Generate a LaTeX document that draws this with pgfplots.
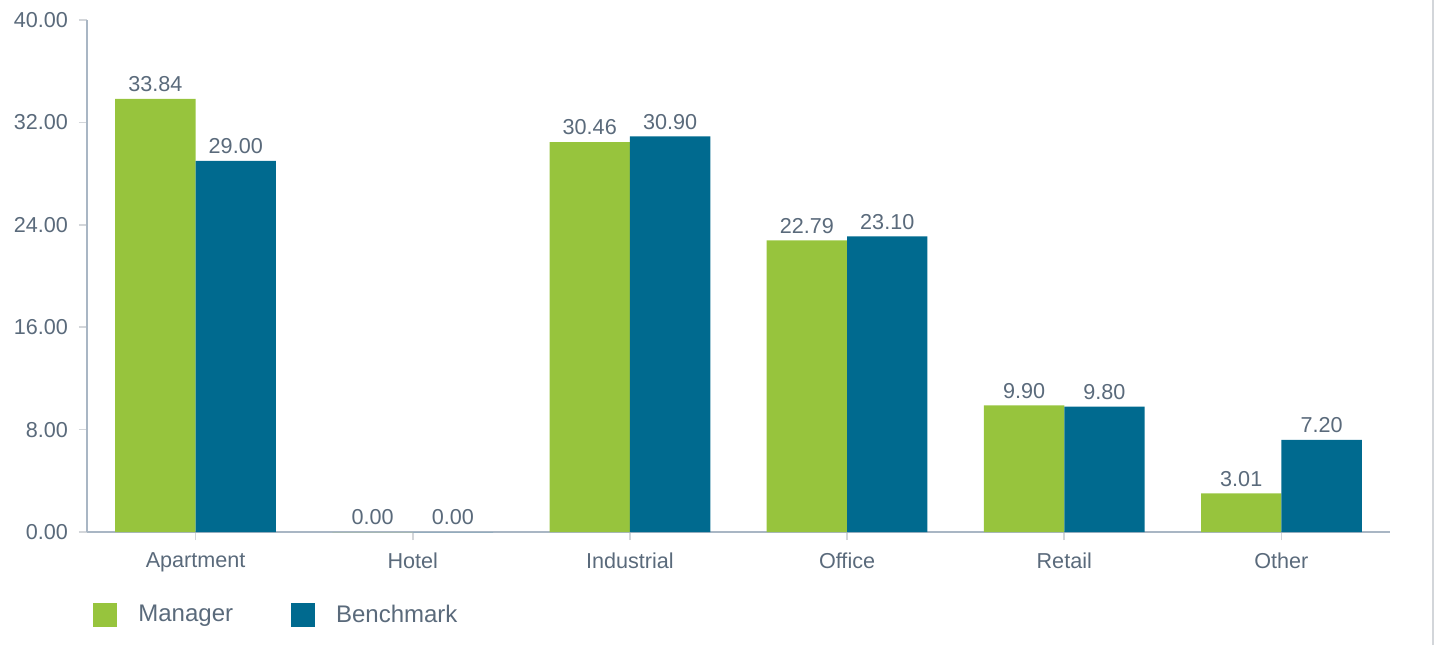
\documentclass[border=0pt]{standalone}
\usepackage{pgfplots}
\pgfplotsset{compat=1.18}
\usepackage{fontspec}
\setmainfont{Liberation Sans}
\definecolor{mgr}{HTML}{97C43D}
\definecolor{bmk}{HTML}{006A8F}
\definecolor{txt}{HTML}{5A6A7B}
\definecolor{axc}{HTML}{A9B6C4}
\definecolor{tkc}{HTML}{D3D6DA}
\begin{document}
\begin{tikzpicture}
\begin{axis}[
  at={(0,0)}, anchor=south west,
  scale only axis,
  width=651.5pt, height=256pt,
  xmin=-0.5, xmax=5.5,
  ymin=0, ymax=40,
  ytick={0,8,16,24,32,40},
  xtick=data,
  xticklabels={Apartment,Hotel,Industrial,Office,Retail,Other},
  axis lines=left,
  axis line style={-, draw=axc, line width=1pt},
  tick align=outside,
  major tick length=4pt,
  tick style={draw=tkc, line width=0.8pt},
  ticklabel style={font=\fontsize{10.8}{13}\selectfont, text=txt},
  /pgf/number format/assume math mode=true,
  yticklabel={\pgfmathprintnumber[fixed,fixed zerofill,precision=2]{\tick}},
  yticklabel style={xshift=-2pt},
  xticklabel style={yshift=-3pt},
  ybar=0pt,
  bar width=0.37,
  nodes near coords={\pgfmathprintnumber[fixed,fixed zerofill,precision=2]{\pgfplotspointmeta}},
  every node near coord/.append style={font=\fontsize{10.8}{13}\selectfont, text=txt},
  legend columns=2,
  legend style={draw=none, fill=none, at={(axis description cs:0,0)}, anchor=west, xshift=0pt, yshift=-41.5pt,
    font=\fontsize{12}{14}\selectfont, text=txt,
    /tikz/every even column/.append style={column sep=27pt}},
  legend image code/.code={\fill[#1] (0pt,-6pt) rectangle (12pt,6pt);},
  clip=false,
]
\addplot[draw=none, fill=mgr, bar shift=-0.185] coordinates {(0,33.84) (1,0) (2,30.46) (3,22.79) (4,9.90) (5,3.01)};
\addplot[draw=none, fill=bmk, bar shift=0.185] coordinates {(0,29.00) (1,0) (2,30.90) (3,23.10) (4,9.80) (5,7.20)};
\legend{\hspace{8.5pt}Manager,\hspace{8.5pt}Benchmark}
\end{axis}
\draw[draw=tkc, line width=0.6pt] (673pt,-56.5pt) -- (673pt,266pt);
\pgfresetboundingbox
\useasboundingbox (-43.5pt,-56.5pt) rectangle (674pt,266pt);
\end{tikzpicture}
\end{document}
